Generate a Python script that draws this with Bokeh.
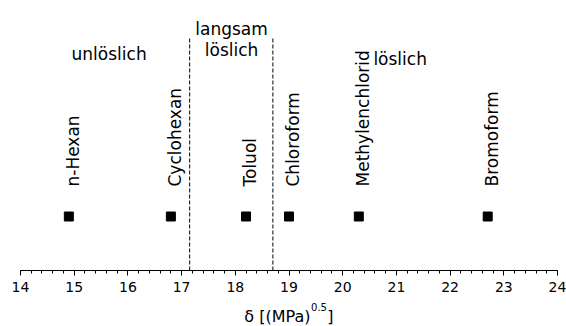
import numpy as np
from bokeh.plotting import figure
from bokeh.layouts import column
from bokeh.models import Range1d, SingleIntervalTicker
from bokeh.core.properties import value
from bokeh.embed import file_html
from bokeh.resources import INLINE

# ---- data ----
solvents = ["n-Hexan", "Cyclohexan", "Toluol", "Chloroform", "Methylenchlorid", "Bromoform"]
delta = [14.9, 16.8, 18.2, 19.0, 20.3, 22.7]
boundaries = [17.15, 18.7]
region_labels = ["unlöslich", "langsam", "löslich", "löslich"]
region_x = [15.65, 17.93, 17.93, 21.07]
region_y = [217, 242, 221, 212]
x_title = ["δ [(MPa)", "0.5", "]"]

# ---- layout constants (vertical positions in px above the axis) ----
POINT_Y = 54
LABEL_GAP = 30
LINE_TOP = 232
FONT = "DejaVu Sans"
W = 566

p = figure(width=W, height=298, x_range=Range1d(14, 24), y_range=Range1d(0, 270),
           output_backend="svg", toolbar_location=None, y_axis_location=None,
           min_border_left=20, min_border_right=9, min_border_top=0, min_border_bottom=28)
p.outline_line_color = None
p.grid.visible = False
p.background_fill_color = "white"
p.border_fill_color = "white"

xa = p.xaxis[0]
xa.ticker = SingleIntervalTicker(interval=1, num_minor_ticks=5)
xa.major_tick_in = 0
xa.major_tick_out = 5
xa.minor_tick_in = 0
xa.minor_tick_out = 3
xa.axis_line_color = "black"
xa.major_tick_line_color = "black"
xa.minor_tick_line_color = "black"
xa.major_label_text_font = FONT
xa.major_label_text_font_size = "14px"
xa.major_label_text_color = "black"
xa.major_label_standoff = 6

p.segment(x0=boundaries, y0=[0] * len(boundaries), x1=boundaries, y1=[LINE_TOP] * len(boundaries),
          line_color="black", line_width=1, line_dash="4 2")

p.scatter(delta, [POINT_Y] * len(delta), marker="square", size=9, color="black")

p.text(x=delta, y=[POINT_Y + LABEL_GAP] * len(delta), text=solvents, angle=np.pi / 2,
       text_align="left", text_baseline="alphabetic", x_offset=4,
       text_font=value(FONT), text_font_size="17px", text_color="black")

p.text(x=region_x, y=region_y, text=region_labels, text_align="center",
       text_baseline="alphabetic", text_font=value(FONT), text_font_size="17px",
       text_color="black")

# axis title strip (separate figure so that the superscript is real text)
t = figure(width=W, height=28, x_range=Range1d(14, 24), y_range=Range1d(0, 28),
           output_backend="svg", toolbar_location=None, x_axis_location=None, y_axis_location=None,
           min_border_left=20, min_border_right=9, min_border_top=0, min_border_bottom=0)
t.outline_line_color = None
t.grid.visible = False
t.background_fill_color = "white"
t.border_fill_color = "white"
t.text(x=[19.40], y=[10], text=[x_title[0]], text_align="right", text_baseline="alphabetic",
       text_font=value(FONT), text_font_size="16px", text_color="black")
t.text(x=[19.41], y=[20], text=[x_title[1]], text_align="left", text_baseline="alphabetic",
       text_font=value(FONT), text_font_size="10px", text_color="black")
t.text(x=[19.71], y=[10], text=[x_title[2]], text_align="left", text_baseline="alphabetic",
       text_font=value(FONT), text_font_size="16px", text_color="black")

open("out.html", "w").write(file_html(column(p, t, spacing=0), INLINE))
